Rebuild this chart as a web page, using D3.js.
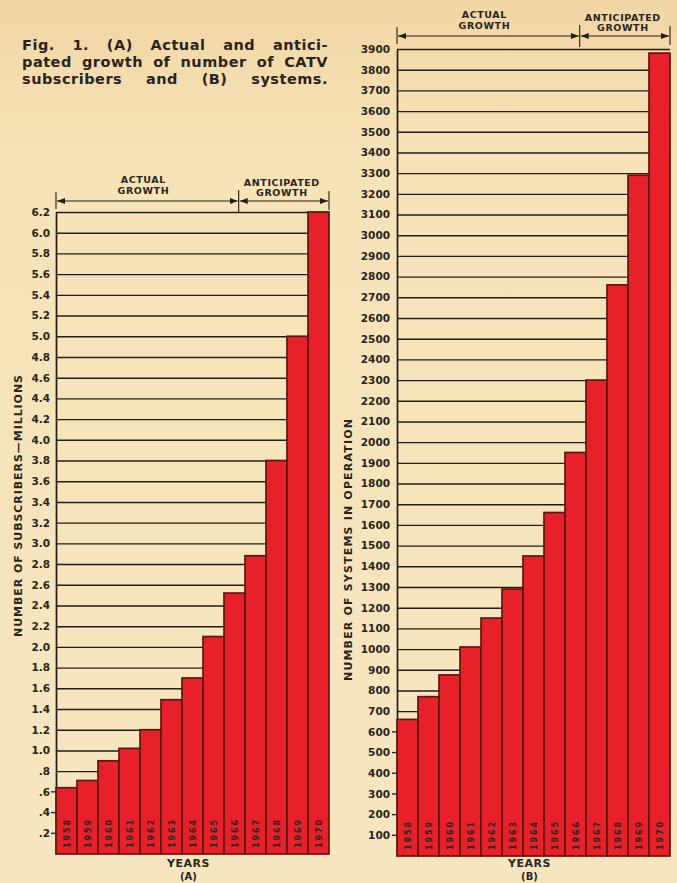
<!DOCTYPE html>
<html>
<head>
<meta charset="utf-8">
<script src="https://cdn.jsdelivr.net/npm/d3@7"></script>
<style>
  html, body { margin: 0; padding: 0; background: #f5e4bb; }
  svg { display: block; }
  .bold { font-family: "DejaVu Sans", sans-serif; font-weight: bold; fill: #2a2420; }
</style>
</head>
<body>
<script>
const years = ["1958", "1959", "1960", "1961", "1962", "1963", "1964",
  "1965", "1966", "1967", "1968", "1969", "1970"];

// (A) subscribers, millions
const subscribers = [0.64, 0.71, 0.9, 1.02, 1.2, 1.49, 1.7, 2.1, 2.52, 2.88, 3.8, 5.0, 6.2];
// (B) systems in operation
const systems = [660, 770, 875, 1010, 1150, 1290, 1450, 1660, 1950, 2300, 2760, 3290, 3880];

const subscriberTicks = [0.2, 0.4, 0.6, 0.8, 1.0, 1.2, 1.4, 1.6, 1.8, 2.0, 2.2, 2.4,
  2.6, 2.8, 3.0, 3.2, 3.4, 3.6, 3.8, 4.0, 4.2, 4.4, 4.6, 4.8, 5.0, 5.2, 5.4, 5.6,
  5.8, 6.0, 6.2];
const systemTicks = [100, 200, 300, 400, 500, 600, 700, 800, 900, 1000, 1100, 1200,
  1300, 1400, 1500, 1600, 1700, 1800, 1900, 2000, 2100, 2200, 2300, 2400, 2500,
  2600, 2700, 2800, 2900, 3000, 3100, 3200, 3300, 3400, 3500, 3600, 3700, 3800, 3900];

const lastActualYear = "1966";
const captionLines = [
  "Fig. 1. (A) Actual and antici-",
  "pated growth of number of CATV",
  "subscribers and (B) systems."
];

const W = 677, H = 883;
const ink = "#231d1a";
const barFill = "#e8202a";
const barEdge = "#5e1710";

const svg = d3.select("body").append("svg").attr("width", W).attr("height", H);

const defs = svg.append("defs");
const grad = defs.append("linearGradient").attr("id", "paper")
  .attr("x1", 0).attr("y1", 0).attr("x2", 0).attr("y2", 1);
grad.append("stop").attr("offset", "0%").attr("stop-color", "#f2d6a4");
grad.append("stop").attr("offset", "18%").attr("stop-color", "#f6e3b8");
grad.append("stop").attr("offset", "100%").attr("stop-color", "#f6e6c0");
defs.append("marker")
  .attr("id", "arrow")
  .attr("viewBox", "0 0 8 6")
  .attr("refX", 8).attr("refY", 3)
  .attr("markerWidth", 8).attr("markerHeight", 6)
  .attr("markerUnits", "userSpaceOnUse")
  .attr("orient", "auto-start-reverse")
  .append("path").attr("d", "M0,0L8,3L0,6z").attr("fill", ink);

svg.append("rect").attr("width", W).attr("height", H).attr("fill", "url(#paper)");

// caption, justified word by word
function justifyLine(text, x0, x1, y) {
  const words = text.split(" ");
  const g = svg.append("g");
  const nodes = words.map(w => g.append("text")
    .attr("class", "bold")
    .attr("y", y)
    .attr("font-size", 14.5)
    .attr("letter-spacing", 0.5)
    .text(w));
  const widths = nodes.map(n => n.node().getComputedTextLength());
  const gap = (x1 - x0 - d3.sum(widths)) / (words.length - 1);
  let x = x0;
  nodes.forEach((n, i) => {
    n.attr("x", x);
    x += widths[i] + gap;
  });
}
captionLines.forEach((line, i) => justifyLine(line, 22, 328, 50 + i * 17));

function drawPanel(opts) {
  const { values, ticks, fmt, x0, x1, yTop, yBase, dimY, title, titleX, titleY, letter } = opts;
  const g = svg.append("g");

  const x = d3.scaleBand().domain(years).range([x0, x1]).padding(0);
  const y = d3.scaleLinear().domain([0, d3.max(ticks)]).range([yBase, yTop]);

  // axis + horizontal rules
  const axis = d3.axisLeft(y)
    .tickValues(ticks)
    .tickFormat(fmt)
    .tickSizeInner(-(x1 - x0))
    .tickSizeOuter(0)
    .tickPadding(opts.pad);
  const ag = g.append("g").attr("transform", `translate(${x0},0)`).call(axis);
  ag.select(".domain").attr("stroke", ink).attr("stroke-width", 1.7);
  ag.selectAll(".tick line").attr("stroke", ink).attr("stroke-width", 1.4);
  ag.selectAll(".tick text")
    .attr("class", "bold")
    .attr("font-size", 10.5)
    .attr("fill", ink)
    .attr("font-family", "DejaVu Sans, sans-serif")
    .attr("font-weight", "bold");

  // short outward dashes where the rules are hidden behind the first bar
  g.selectAll(".dash")
    .data(ticks.filter(t => t < values[0]))
    .join("line")
    .attr("x1", x0 - 5).attr("x2", x0)
    .attr("y1", d => y(d)).attr("y2", d => y(d))
    .attr("stroke", ink).attr("stroke-width", 1.3);

  // bars
  g.selectAll(".bar")
    .data(values)
    .join("rect")
    .attr("x", (d, i) => x(years[i]))
    .attr("y", d => y(d))
    .attr("width", x.bandwidth())
    .attr("height", d => yBase - y(d))
    .attr("fill", barFill)
    .attr("stroke", barEdge)
    .attr("stroke-width", 1.7);

  // year labels inside bars
  g.selectAll(".yr")
    .data(years)
    .join("text")
    .attr("class", "bold")
    .attr("transform", d => `translate(${x(d) + x.bandwidth() / 2 + 3},${yBase - 20}) rotate(-90)`)
    .attr("text-anchor", "middle")
    .attr("font-size", 8)
    .attr("textLength", 28)
    .attr("lengthAdjust", "spacing")
    .attr("fill", "#3a0c08")
    .text(d => d);

  // growth dimension line
  const xm = x(lastActualYear) + x.bandwidth() * 0.7;
  const dl = g.append("g").attr("stroke", ink).attr("stroke-width", 1.1);
  [[x0, xm], [xm, x1]].forEach(([a, b]) => {
    dl.append("line")
      .attr("x1", a + 1).attr("x2", b - 1)
      .attr("y1", dimY).attr("y2", dimY)
      .attr("marker-start", "url(#arrow)")
      .attr("marker-end", "url(#arrow)");
  });
  dl.append("line").attr("x1", x0).attr("x2", x0).attr("y1", dimY - 9).attr("y2", dimY + 8);
  dl.append("line").attr("x1", x1).attr("x2", x1).attr("y1", dimY - 10).attr("y2", dimY + 9);
  dl.append("line").attr("x1", xm).attr("x2", xm).attr("y1", dimY - 11).attr("y2", dimY + 11);

  const hdr = (txt, cx, yy) => g.append("text")
    .attr("class", "bold")
    .attr("x", cx).attr("y", yy)
    .attr("text-anchor", "middle")
    .attr("font-size", 9.5)
    .attr("letter-spacing", 0.6)
    .text(txt);
  const ca = (x0 + xm) / 2 - 4, cb = (xm + x1) / 2 - 2;
  hdr("ACTUAL", ca, dimY - 18);
  hdr("GROWTH", ca, dimY - 7);
  hdr("ANTICIPATED", cb, dimY - 15);
  hdr("GROWTH", cb, dimY - 5);

  // y title
  g.append("text")
    .attr("class", "bold")
    .attr("transform", `translate(${titleX},${titleY}) rotate(-90)`)
    .attr("text-anchor", "middle")
    .attr("font-size", 11)
    .attr("textLength", 262)
    .attr("lengthAdjust", "spacing")
    .text(title);

  // x title
  const cx = (x0 + x1) / 2 - 4;
  g.append("text").attr("class", "bold")
    .attr("x", cx).attr("y", Math.min(yBase + 14, H - 16))
    .attr("text-anchor", "middle").attr("font-size", 11)
    .attr("letter-spacing", 0.5)
    .text("YEARS");
  g.append("text").attr("class", "bold")
    .attr("x", cx).attr("y", H - 3)
    .attr("text-anchor", "middle").attr("font-size", 10)
    .text(`(${letter})`);
}

drawPanel({
  values: subscribers,
  ticks: subscriberTicks,
  fmt: d => d3.format(".1f")(d).replace(/^0/, ""),
  x0: 56, x1: 329, yTop: 212, yBase: 854, dimY: 201, pad: 6,
  title: "NUMBER OF SUBSCRIBERS\u2014MILLIONS", titleX: 22, titleY: 506,
  letter: "A"
});

drawPanel({
  values: systems,
  ticks: systemTicks,
  fmt: d3.format("d"),
  x0: 397, x1: 670, yTop: 49, yBase: 856, dimY: 36, pad: 7,
  title: "NUMBER OF SYSTEMS IN OPERATION", titleX: 352, titleY: 550,
  letter: "B"
});
</script>
</body>
</html>
